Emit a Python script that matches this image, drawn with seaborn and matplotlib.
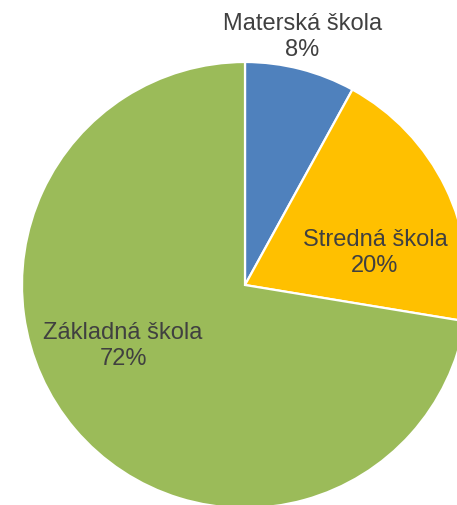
import matplotlib
matplotlib.use("Agg")
import matplotlib.pyplot as plt
import seaborn as sns

categorias = ["Materská škola", "Stredná škola", "Základná škola"]
podiel = [8.0, 19.6, 72.4]
percenta = ["8%", "20%", "72%"]
farby = ["#4F81BD", "#FFC000", "#9BBB59"]
# pozicie popisov (v jednotkach polomeru)
popis_x = [0.256, 0.583, -0.547]
popis_y = [1.112, 0.143, -0.274]

sns.set_style("white")
plt.rcParams['font.family'] = ['Liberation Sans', 'DejaVu Sans']

fig = plt.figure(figsize=(4.57, 5.05), dpi=100)
ax = fig.add_axes([0, 0, 1, 1])

wedges, _ = ax.pie(podiel, colors=sns.color_palette(farby), startangle=90,
                   counterclock=False, radius=1,
                   wedgeprops=dict(edgecolor="white", linewidth=1.6))

for kat, p, x, y in zip(categorias, percenta, popis_x, popis_y):
    ax.text(x, y, f"{kat}\n{p}", ha="center", va="center",
            fontsize=17, color="#404040", linespacing=1.25)

s = 223
ax.set_xlim(-245 / s, 212 / s)
ax.set_ylim(-220 / s, 285 / s)
ax.set_aspect("auto")
ax.axis("off")

plt.savefig("out.png", dpi=100)
